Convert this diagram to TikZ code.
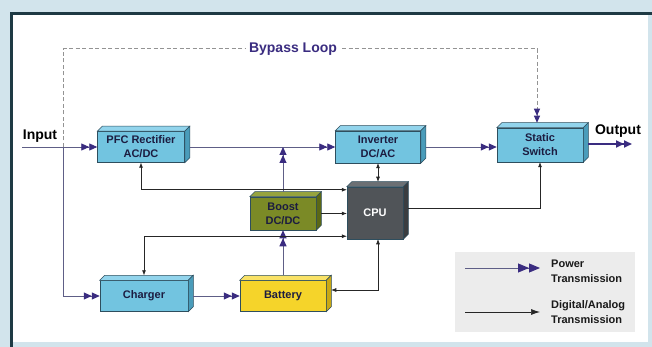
\documentclass[tikz,border=0pt]{standalone}
\usepackage{fontspec}
\setmainfont{Liberation Sans}
\usetikzlibrary{arrows.meta}
\definecolor{bgblue}{HTML}{D2E4EC}
\definecolor{frame}{HTML}{1E3A44}
\definecolor{edgec}{HTML}{2E4E5E}
\definecolor{labc}{HTML}{1C1C40}
\definecolor{pwline}{HTML}{5E5E86}
\definecolor{pwtip}{HTML}{3A2C80}
\definecolor{bluef}{HTML}{72C4E0}
\definecolor{bluet}{HTML}{92D4EC}
\definecolor{blues}{HTML}{4A9CBA}
\definecolor{olivef}{HTML}{7B8A26}
\definecolor{olivet}{HTML}{96A33E}
\definecolor{olives}{HTML}{5B6816}
\definecolor{cpuf}{HTML}{505458}
\definecolor{cput}{HTML}{6C7074}
\definecolor{cpus}{HTML}{3A3D40}
\definecolor{batf}{HTML}{F5D42A}
\definecolor{batt}{HTML}{F9E266}
\definecolor{bats}{HTML}{C9A814}
\definecolor{legf}{HTML}{ECECEC}
\newcommand{\cubefaces}[3]{%
  \filldraw[fill=#2,draw=edgec,line width=0.5pt] (#1.north west) -- ++(5,-5) -- ([shift={(5,-5)}]#1.north east) -- (#1.north east) -- cycle;
  \filldraw[fill=#3,draw=edgec,line width=0.5pt] (#1.north east) -- ++(5,-5) -- ([shift={(5,-5)}]#1.south east) -- (#1.south east) -- cycle;
}
\begin{document}
\begin{tikzpicture}[x=1pt,y=-1pt,
  blk/.style={draw=edgec,line width=0.5pt,inner sep=0pt,align=center,text=labc,
    font=\bfseries\fontsize{11}{14}\selectfont},
  pw/.style={draw=pwline,line width=0.9pt,
    -{Triangle[length=8pt,width=7pt,color=pwtip]Triangle[length=8pt,width=7pt,color=pwtip]}},
  pwbig/.style={draw=pwline,line width=0.9pt,
    -{Triangle[length=11pt,width=9pt,color=pwtip]Triangle[length=11pt,width=9pt,color=pwtip]}},
  sg/.style={draw=black!85,line width=0.6pt,-{Latex[length=5pt,width=4pt]}},
  sgb/.style={draw=black!85,line width=0.6pt,{Latex[length=5pt,width=4pt]}-{Latex[length=5pt,width=4pt]}},
  sgbig/.style={draw=black!85,line width=0.7pt,-{Latex[length=9pt,width=6pt]}},
  dashln/.style={draw=gray!85,line width=1pt,dash pattern=on 4pt off 2.5pt},
  big/.style={font=\bfseries\fontsize{14}{16}\selectfont,inner sep=1pt},
  legtxt/.style={font=\bfseries\fontsize{11}{15}\selectfont,align=left,anchor=west,inner sep=0pt,text=black!90}
]
\useasboundingbox (0,0) rectangle (652,347);
% background and panel
\fill[bgblue] (0,0) rectangle (652,347);
\fill[white] (10,12) rectangle (648,342);
\draw[frame,line width=3pt] (11.5,347) -- (11.5,13.5) -- (652,13.5);

% boxes
\node[blk,fill=bluef,minimum width=87pt,minimum height=31pt] (pfc) at (141,147) {PFC Rectifier\\AC/DC};
\node[blk,fill=bluef,minimum width=85pt,minimum height=32pt] (inv) at (378,147) {Inverter\\DC/AC};
\node[blk,fill=bluef,minimum width=86pt,minimum height=34pt] (sw) at (540,145) {Static\\Switch};
\node[blk,fill=olivef,minimum width=66pt,minimum height=33pt] (boost) at (283,213.5) {Boost\\DC/DC};
\node[blk,fill=cpuf,text=white,minimum width=56pt,minimum height=52pt] (cpu) at (375,213) {CPU};
\node[blk,fill=bluef,minimum width=88pt,minimum height=31pt] (chg) at (144,296) {Charger};
\node[blk,fill=batf,minimum width=86pt,minimum height=31pt] (bat) at (283,296) {Battery};
\cubefaces{pfc}{bluet}{blues}
\cubefaces{inv}{bluet}{blues}
\cubefaces{sw}{bluet}{blues}
\cubefaces{boost}{olivet}{olives}
\cubefaces{cpu}{cput}{cpus}
\cubefaces{chg}{bluet}{blues}
\cubefaces{bat}{batt}{bats}

% labels
\node[big,text=black] (inlab) at (40,136) {Input};
\node[big,text=black] (outlab) at (618,131) {Output};

% coordinates
\coordinate (inp) at (22,147);
\coordinate (split) at (63,147);
\coordinate (bypL) at (63,49);
\coordinate (bypR) at (537,49);
\coordinate (jn) at (283,147);
\coordinate (outp) at (632,144);

% bypass loop
\draw[dashln,-{Triangle[length=7pt,width=6pt,color=pwtip]Triangle[length=7pt,width=6pt,color=pwtip]}]
  (split) -- (bypL) -- (bypR) -- ([yshift=5pt]sw.north -| bypR);
\node[big,fill=white,text=pwtip,inner xsep=3pt] (byp) at (293,49) {Bypass Loop};

% power connectors
\draw[pw] (inp) -- (pfc.west);
\draw[pw] ([xshift=5pt]pfc.east) -- (inv.west);
\draw[pw] ([xshift=5pt]inv.east) -- (inv.east -| sw.west);
\draw[pw,draw=pwtip,line width=1.8pt] ([xshift=5pt]sw.east |- outp) -- (outp);
\draw[pw] ([yshift=5pt]boost.north) -- (jn);
\draw[pw] ([yshift=5pt]bat.north) -- (boost.south);
\draw[pw] (split) |- (chg.west);
\draw[pw] ([xshift=5pt]chg.east) -- (bat.west);

% signal connectors
\draw[sgb] (pfc.south) |- ([yshift=-3pt]cpu.north west);
\draw[sg] ([xshift=5pt]boost.east) -- (boost.east -| cpu.west);
\draw[sgb] ([yshift=5pt]chg.north) |- ([yshift=3pt]cpu.south west);
\draw[sgb] ([shift={(3,-5)}]cpu.north) -- (inv.south);
\draw[sg] ([shift={(5,-5)}]cpu.east) -| (sw.south);
\draw[sgb] ([xshift=3pt]cpu.south) |- ([shift={(5,-6)}]bat.east);

% legend
\node[fill=legf,minimum width=180pt,minimum height=80pt,inner sep=0pt] (leg) at (545,292) {};
\coordinate (lp1) at (465,268);
\coordinate (lp2) at (540,268);
\coordinate (ls1) at (465,312);
\coordinate (ls2) at (540,312);
\draw[pwbig] (lp1) -- (lp2);
\draw[sgbig] (ls1) -- (ls2);
\node[legtxt] (lpt) at (551,271) {Power\\Transmission};
\node[legtxt] (lst) at (551,312) {Digital/Analog\\Transmission};
\end{tikzpicture}
\end{document}
